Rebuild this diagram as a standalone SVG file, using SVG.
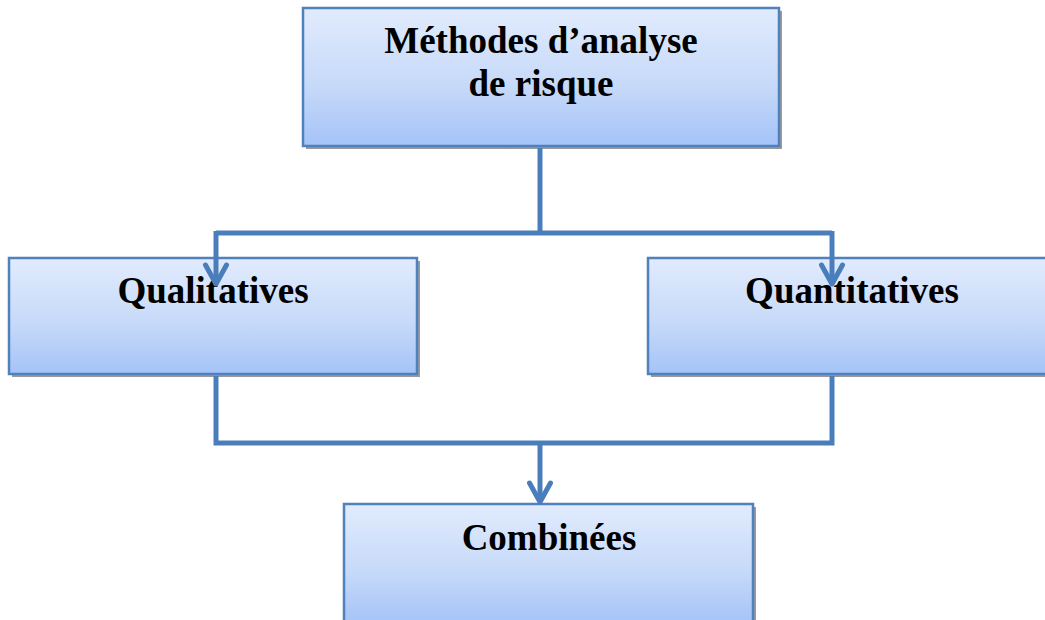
<svg xmlns="http://www.w3.org/2000/svg" width="1045" height="620" viewBox="0 0 1045 620">
  <defs>
    <linearGradient id="boxFill" x1="0" y1="0" x2="0" y2="1">
      <stop offset="0" stop-color="#e1ebfd"/>
      <stop offset="0.55" stop-color="#c7daf9"/>
      <stop offset="1" stop-color="#a5c3f8"/>
    </linearGradient>
    <!-- open V arrowhead; tip sits 3px past the end of the line -->
    <marker id="arrow" markerUnits="userSpaceOnUse" viewBox="-26 -16 34 32" refX="-3" refY="0" markerWidth="34" markerHeight="32" orient="auto">
      <path d="M-19,-10.5 L0,0 L-19,10.5" fill="none" stroke="#4a7ebb" stroke-width="5" stroke-linecap="round" stroke-linejoin="round"/>
    </marker>
  </defs>
  <style>
    .shadow { fill: #9a9a9a; }
    .box { fill: url(#boxFill); stroke: #4f81bd; stroke-width: 2.5; }
    .label { font-family: "Liberation Serif", "Times New Roman", serif; font-weight: bold; font-size: 37px; fill: #000; text-anchor: middle; }
    .link { fill: none; stroke: #4a7ebb; stroke-width: 5; stroke-linejoin: miter; }
  </style>
  <rect width="1045" height="620" fill="#ffffff"/>

  <g id="node-methodes">
    <rect class="shadow" x="306" y="11" width="476" height="138"/>
    <rect class="box" x="303" y="8" width="476" height="138"/>
    <text class="label" x="541" y="53">Méthodes d’analyse</text>
    <text class="label" x="541" y="96">de risque</text>
  </g>

  <g id="node-qualitatives">
    <rect class="shadow" x="12" y="261" width="408" height="116"/>
    <rect class="box" x="9" y="258" width="408" height="116"/>
    <text class="label" x="213" y="303">Qualitatives</text>
  </g>

  <g id="node-quantitatives">
    <rect class="shadow" x="651" y="261" width="408" height="116"/>
    <rect class="box" x="648" y="258" width="408" height="116"/>
    <text class="label" x="852" y="303">Quantitatives</text>
  </g>

  <g id="node-combinees">
    <rect class="shadow" x="347" y="507" width="409" height="120"/>
    <rect class="box" x="344" y="504" width="409" height="120"/>
    <text class="label" x="549" y="550">Combinées</text>
  </g>

  <g id="connectors">
    <path class="link" d="M540,148 V233"/>
    <path class="link" d="M216,233 H832"/>
    <path class="link" d="M216,231 V281" marker-end="url(#arrow)"/>
    <path class="link" d="M832,231 V281" marker-end="url(#arrow)"/>
    <path class="link" d="M216,376 V443 H832 V376"/>
    <path class="link" d="M540,443 V499" marker-end="url(#arrow)"/>
  </g>
</svg>
